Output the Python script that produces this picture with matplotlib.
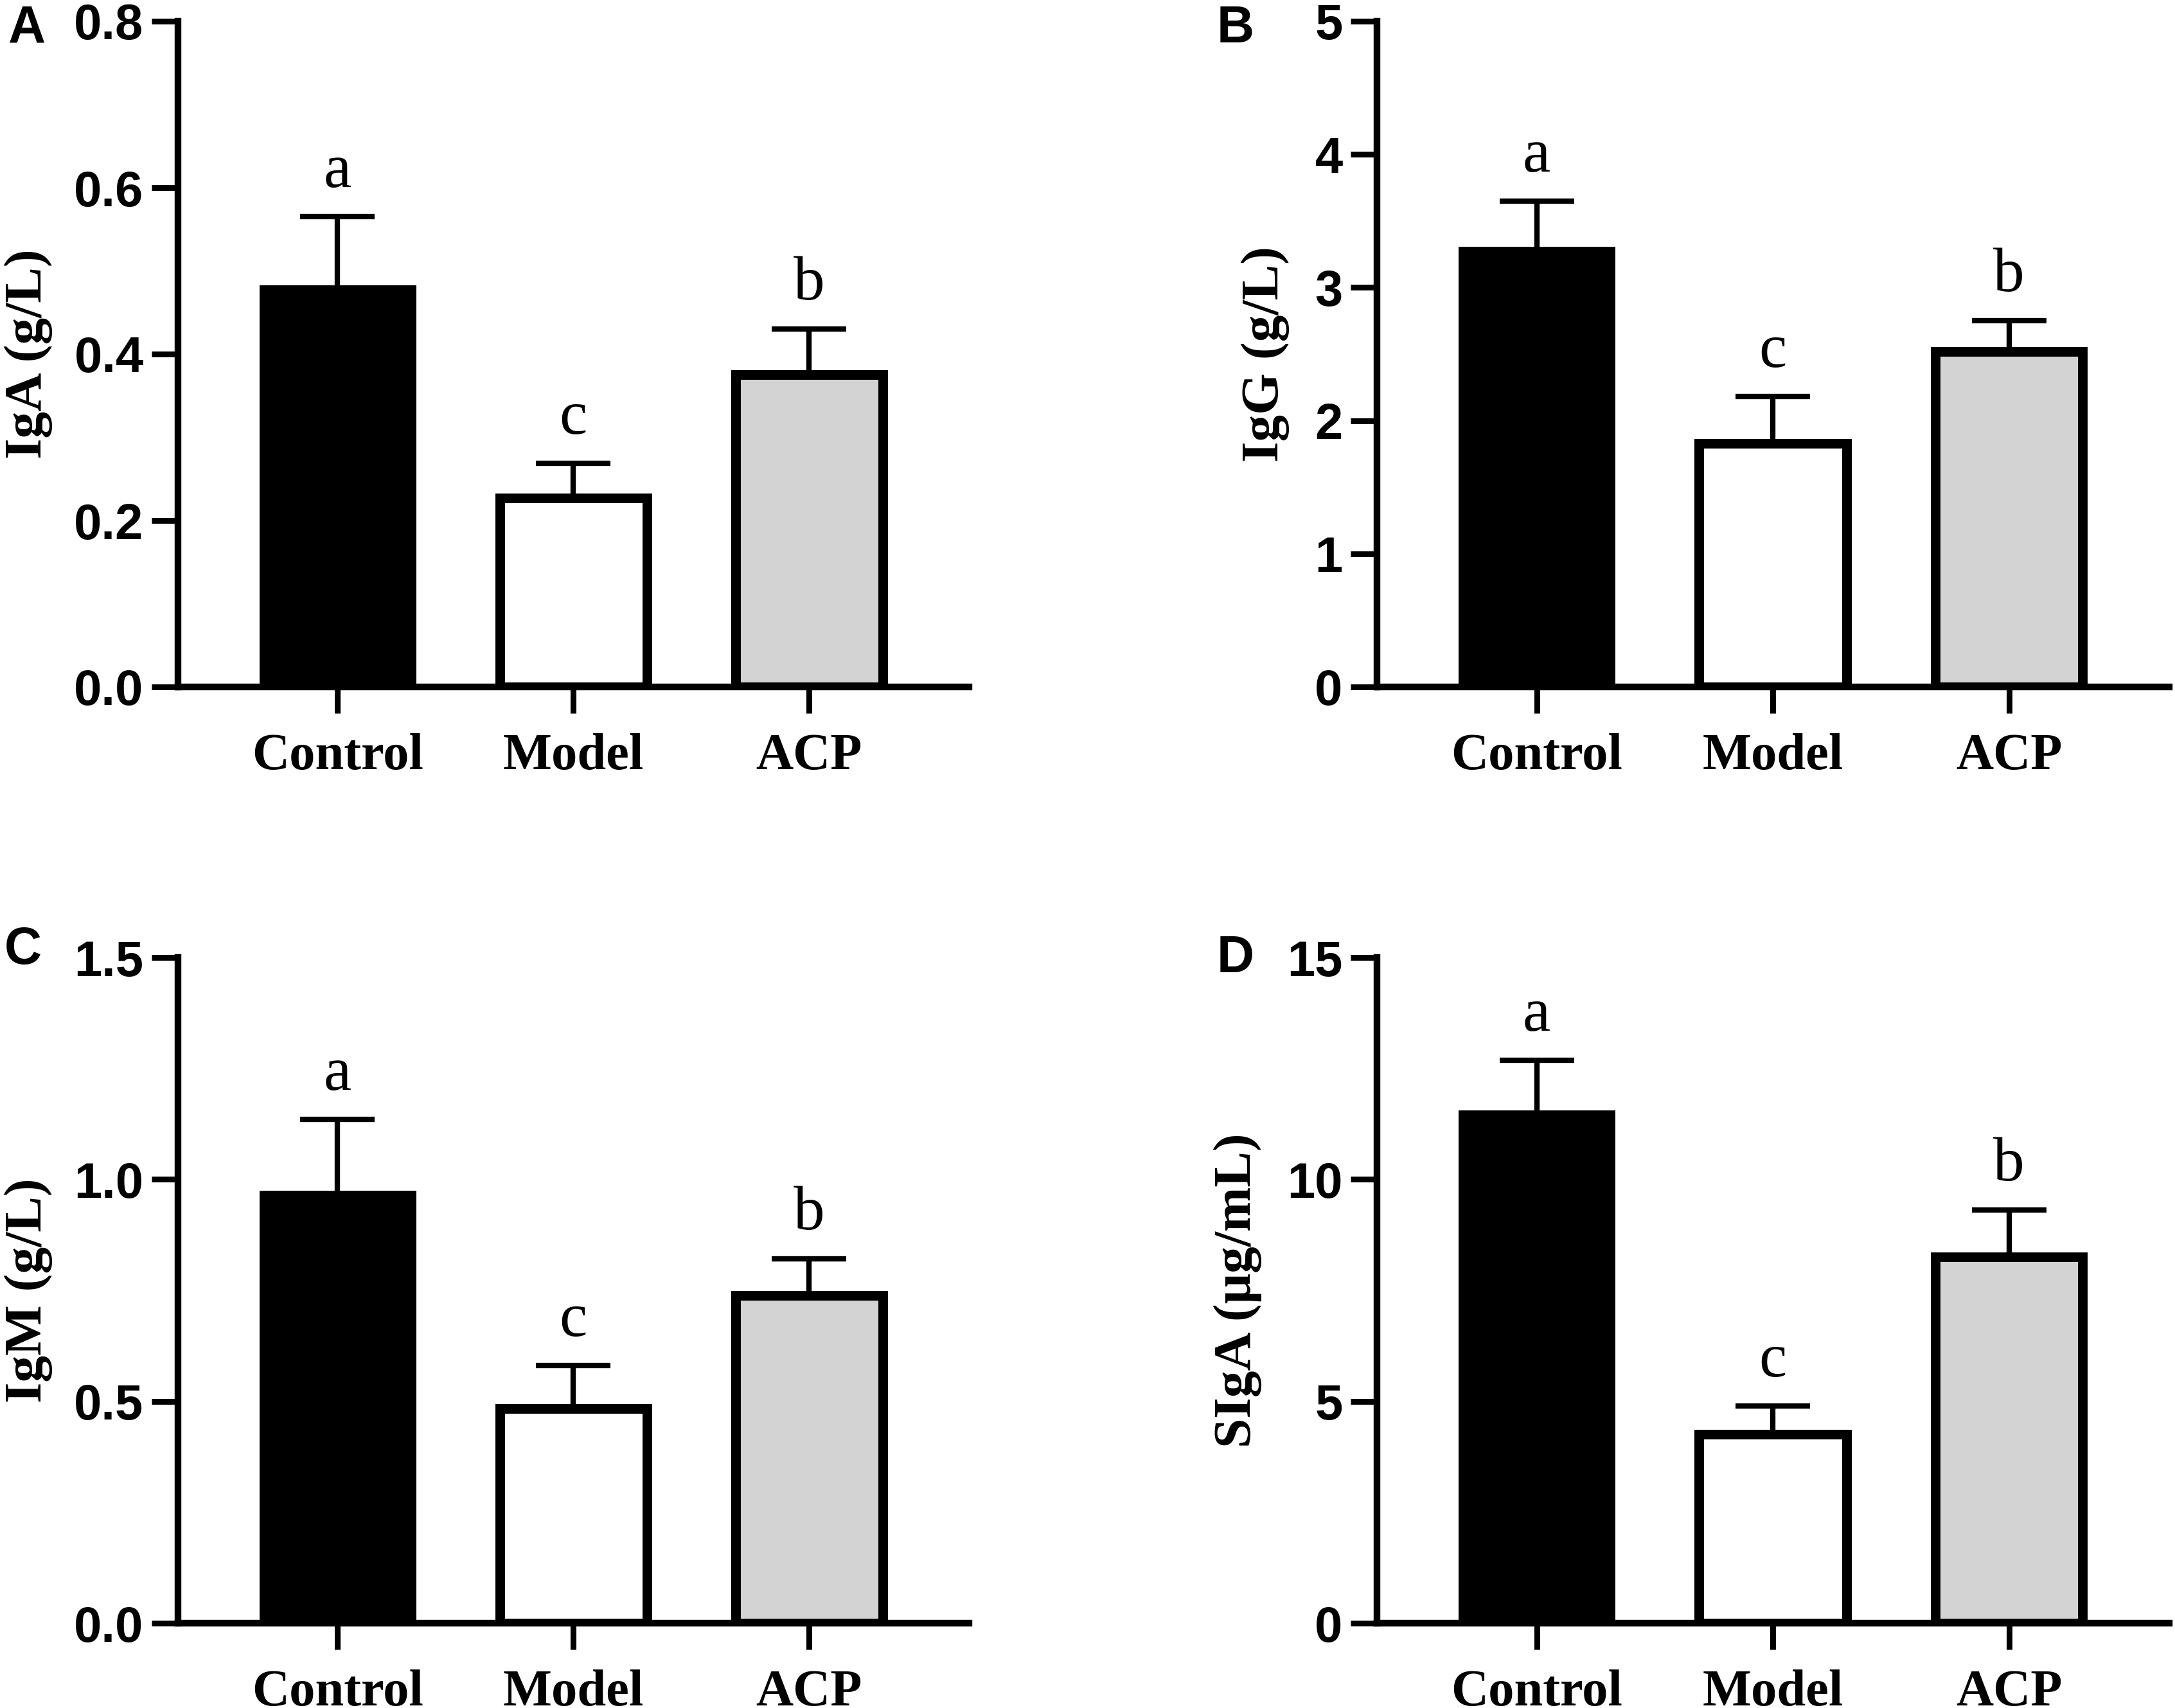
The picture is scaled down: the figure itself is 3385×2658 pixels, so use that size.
import numpy as np
import matplotlib
matplotlib.use("Agg")
import matplotlib.pyplot as plt

groups = ["Control", "Model", "ACP"]
bar_colors = ["black", "white", "#d3d3d3"]

iga_mean = [0.477, 0.227, 0.375]
iga_top = [0.565, 0.269, 0.430]
igg_mean = [3.27, 1.83, 2.52]
igg_top = [3.65, 2.18, 2.75]
igm_mean = [0.965, 0.484, 0.738]
igm_top = [1.135, 0.581, 0.821]
siga_mean = [11.45, 4.26, 8.25]
siga_top = [12.69, 4.89, 9.31]
sig_letters = ["a", "c", "b"]

W, H = 3385, 2658
fig = plt.figure(figsize=(W / 100, H / 100), dpi=100)

def px_box(x0, x1, ytop, ybot):
    return [x0 / W, 1 - ybot / H, (x1 - x0) / W, (ybot - ytop) / H]

panels = [
    ("IgA (g/L)", iga_mean, iga_top, 0.8, [0.0, 0.2, 0.4, 0.6, 0.8], "%.1f",
     px_box(277, 1508, 33, 1069), -0.189),
    ("IgG (g/L)", igg_mean, igg_top, 5, [0, 1, 2, 3, 4, 5], "%d",
     px_box(2143, 3376, 33, 1069), -0.141),
    ("IgM (g/L)", igm_mean, igm_top, 1.5, [0.0, 0.5, 1.0, 1.5], "%.1f",
     px_box(277, 1508, 1490, 2526), -0.189),
    ("SIgA (\u03bcg/mL)", siga_mean, siga_top, 15, [0, 5, 10, 15], "%d",
     px_box(2143, 3376, 1490, 2526), -0.176),
]

x = np.arange(len(groups))
for ylab, mean, top, ymax, ticks, fmt, box, labx in panels:
    ax = fig.add_axes(box)
    mean = np.array(mean)
    err = np.array(top) - mean
    # upper error only, as in the original
    ax.errorbar(x, mean, yerr=[np.zeros(3), err], fmt="none", ecolor="black",
                elinewidth=6, capsize=42, capthick=6, zorder=1)
    ax.bar(x, mean, width=0.624, color=bar_colors, edgecolor="black",
           linewidth=10.8, zorder=2)
    for xi, t, s in zip(x, top, sig_letters):
        ax.annotate(s, (xi, t), xytext=(0, 33), textcoords="offset points",
                    ha="center", va="baseline", fontsize=70,
                    family="Liberation Serif")
    ax.set_xlim(-0.676, 2.678)
    ax.set_ylim(0, ymax)
    ax.set_yticks(ticks)
    ax.set_yticklabels([fmt % t for t in ticks], family="Liberation Sans",
                       fontweight="bold", fontsize=56)
    ax.set_xticks(x)
    ax.set_xticklabels(groups, family="Liberation Serif", fontweight="bold",
                       fontsize=58)
    for side in ["top", "right"]:
        ax.spines[side].set_visible(False)
    for side in ["left", "bottom"]:
        ax.spines[side].set_linewidth(7.5)
    ax.tick_params(axis="both", length=29.5, width=6.5)
    ax.tick_params(axis="y", pad=9)
    ax.tick_params(axis="x", pad=22)
    ax.set_ylabel(ylab, family="Liberation Serif", fontweight="bold",
                  fontsize=60, va="center")
    ax.yaxis.set_label_coords(labx, 0.5)

# panel letters (right edge, baseline) in pixels
for lab, xr, yb in [("A", 71, 66), ("B", 1952, 66), ("C", 65, 1500), ("D", 1952, 1513)]:
    fig.text(xr / W, 1 - yb / H, lab, ha="right", va="baseline",
             family="Liberation Sans", fontweight="bold", fontsize=58)

fig.savefig("out.png", dpi=100)
